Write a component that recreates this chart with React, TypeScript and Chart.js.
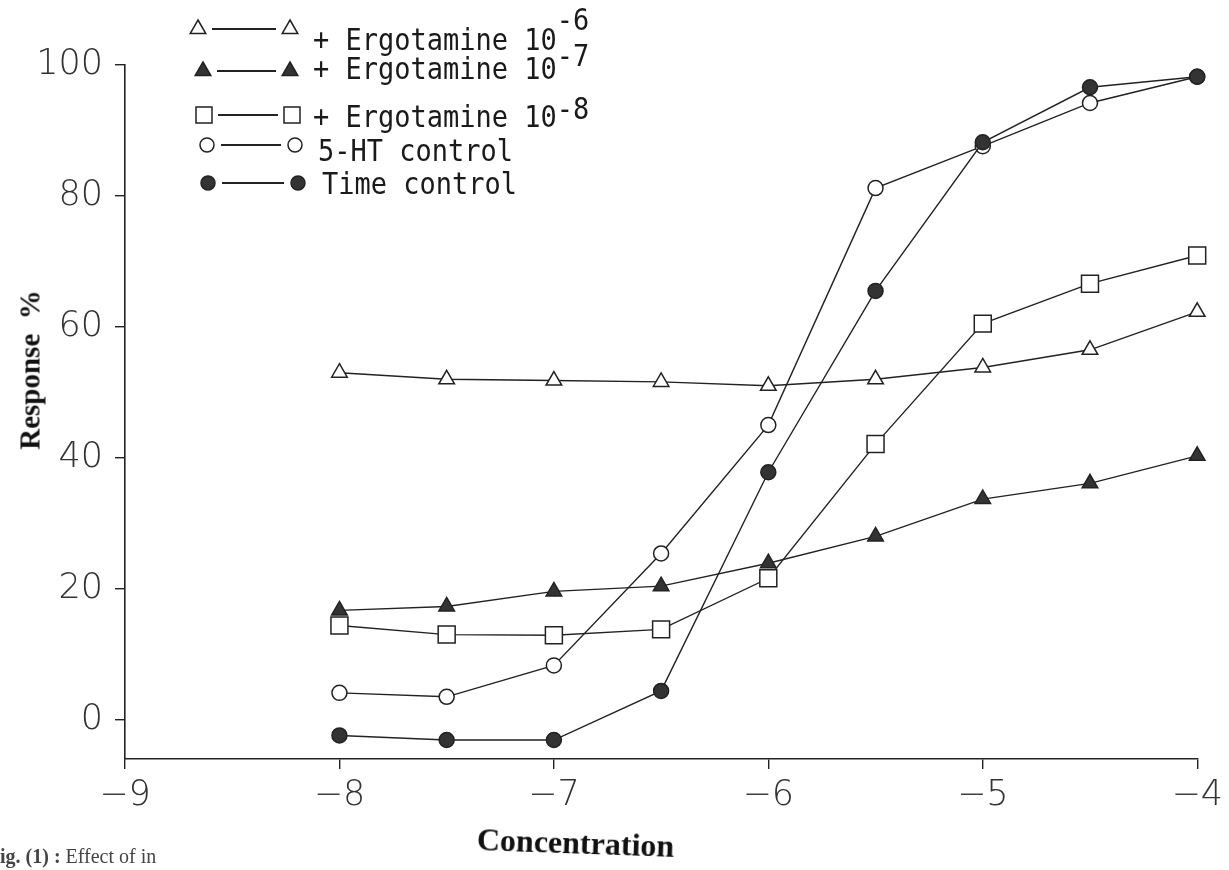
import React, { useEffect, useRef } from 'react';
import { Chart, registerables } from 'chart.js';

Chart.register(...registerables);

// ---- data ----
const concentrations = [-8, -7.5, -7, -6.5, -6, -5.5, -5, -4.5, -4];
const ergotamine6 = [53, 52, 51.8, 51.6, 51, 52, 53.8, 56.5, 62.3];
const ergotamine7 = [16.7, 17.3, 19.6, 20.4, 23.9, 28, 33.7, 36.1, 40.3];
const ergotamine8 = [14.4, 13, 12.9, 13.8, 21.6, 42.1, 60.5, 66.6, 70.9];
const htControl = [4.1, 3.5, 8.3, 25.4, 45, 81.2, 87.6, 94.2, 98.2];
const timeControl = [-2.4, -3.1, -3.1, 4.4, 37.8, 65.5, 88.2, 96.6, 98.2];

const xTicks = [-9, -8, -7, -6, -5, -4];
const yTicks = [0, 20, 40, 60, 80, 100];

const seriesNames = ['+ Ergotamine 10', '+ Ergotamine 10', '+ Ergotamine 10', '5-HT control', 'Time control'];
const seriesExps = ['-6', '-7', '-8', '', ''];
const markerKinds = ['triangle', 'triangle', 'rect', 'circle', 'circle'];
const markerFilled = [false, true, false, false, true];

const INK = '#222';
const FILL = '#333';

function Marker({ kind, filled, x, y }: { kind: string; filled: boolean; x: number; y: number }) {
  const fill = filled ? FILL : '#fff';
  let shape: React.ReactNode;
  if (kind === 'triangle') {
    shape = <polygon points="12,3 19.8,16.5 4.2,16.5" fill={fill} stroke={INK} strokeWidth={1.5} />;
  } else if (kind === 'rect') {
    shape = <rect x={4} y={4} width={16} height={16} fill={fill} stroke={INK} strokeWidth={1.5} />;
  } else {
    shape = <circle cx={12} cy={12} r={7} fill={fill} stroke={INK} strokeWidth={1.5} />;
  }
  return (
    <svg width={24} height={24} style={{ position: 'absolute', left: x - 12, top: y - 12 }}>
      {shape}
    </svg>
  );
}

const legendLayout = [
  { my: 29, ty: 41, m1: 198, m2: 290, tx: 313, raise: 18 },
  { my: 71, ty: 70, m1: 203, m2: 290, tx: 313, raise: 12 },
  { my: 115, ty: 118, m1: 204, m2: 292, tx: 313, raise: 7 },
  { my: 145, ty: 152, m1: 207, m2: 295, tx: 318, raise: 0 },
  { my: 183, ty: 185, m1: 208, m2: 298, tx: 322, raise: 0 },
];

export default function App() {
  const ref = useRef<HTMLCanvasElement>(null);

  useEffect(() => {
    document.body.style.margin = '0';
    const canvas = ref.current;
    if (!canvas) return;
    const pts = (vals: number[]) => concentrations.map((x, i) => ({ x, y: vals[i] }));
    const series = [ergotamine6, ergotamine7, ergotamine8, htControl, timeControl];
    const radii = [9, 9, 12, 7.5, 7.5];
    const datasets = series.map((vals, i) => ({
      label: seriesNames[i] + seriesExps[i],
      data: pts(vals),
      order: series.length - 1 - i,
      showLine: true,
      clip: false as any,
      borderColor: INK,
      borderWidth: 1.4,
      backgroundColor: markerFilled[i] ? FILL : '#fff',
      pointBackgroundColor: markerFilled[i] ? FILL : '#fff',
      pointBorderColor: INK,
      pointBorderWidth: 1.5,
      pointStyle: markerKinds[i] as any,
      pointRadius: radii[i],
      pointHoverRadius: radii[i],
      tension: 0,
      fill: false,
    }));

    const tickFont = { family: "'DejaVu Sans', 'Liberation Sans', sans-serif", size: 35, weight: '200' as any };

    const chart = new Chart(canvas, {
      type: 'line',
      data: { datasets },
      options: {
        animation: false,
        responsive: false,
        layout: { padding: { left: 0, right: 24, top: 65, bottom: 0 } },
        plugins: { legend: { display: false }, tooltip: { enabled: false }, title: { display: false } },
        scales: {
          x: {
            type: 'linear',
            min: -9,
            max: -4,
            afterFit: (s: any) => { s.height = 111; },
            afterBuildTicks: (s: any) => { s.ticks = xTicks.map((v) => ({ value: v })); },
            ticks: {
              color: '#333',
              font: tickFont,
              padding: 6,
              maxRotation: 0,
              callback: (v: any) => '\u2212' + Math.abs(Number(v)),
            },
            grid: { drawOnChartArea: false, drawTicks: true, tickLength: 10, color: INK, lineWidth: 1.4 },
            border: { display: true, color: INK, width: 1.6 },
          },
          y: {
            type: 'linear',
            min: -6,
            max: 100,
            afterFit: (s: any) => { s.width = 125; },
            afterBuildTicks: (s: any) => { s.ticks = yTicks.map((v) => ({ value: v })); },
            ticks: { color: '#333', font: tickFont, padding: 12 },
            grid: { drawOnChartArea: false, drawTicks: true, tickLength: 10, color: INK, lineWidth: 1.4 },
            border: { display: true, color: INK, width: 1.6 },
          },
        },
      },
    });
    return () => chart.destroy();
  }, []);

  const legendFont = "'DejaVu Sans Mono', 'Liberation Mono', monospace";

  return (
    <div style={{ position: 'relative', width: 1229, height: 870, overflow: 'hidden', background: '#fff' }}>
      <canvas ref={ref} width={1229} height={870} style={{ position: 'absolute', left: 0, top: 0, width: 1229, height: 870 }} />
      {legendLayout.map((r, i) => (
        <React.Fragment key={i}>
          <Marker kind={markerKinds[i]} filled={markerFilled[i]} x={r.m1} y={r.my} />
          <div style={{ position: 'absolute', left: r.m1 + 14, top: r.my - 0.75, width: r.m2 - r.m1 - 28, height: 1.5, background: INK }} />
          <Marker kind={markerKinds[i]} filled={markerFilled[i]} x={r.m2} y={r.my} />
          <div
            style={{
              position: 'absolute',
              left: r.tx,
              top: r.ty,
              transform: 'translateY(-55%) scaleY(1.12)',
              fontFamily: legendFont,
              fontSize: 27,
              lineHeight: 1,
              color: '#1a1a1a',
              whiteSpace: 'pre',
            }}
          >
            {seriesNames[i]}
            {seriesExps[i] ? <span style={{ position: 'relative', top: -r.raise }}>{seriesExps[i]}</span> : null}
          </div>
        </React.Fragment>
      ))}
      <div
        style={{
          position: 'absolute',
          left: 30,
          top: 370,
          transform: 'translate(-50%, -50%) rotate(-90deg)',
          fontFamily: "'Liberation Serif', 'Times New Roman', serif",
          fontWeight: 'bold',
          fontSize: 29,
          whiteSpace: 'pre',
          color: '#111',
        }}
      >
        {'Response  %'}
      </div>
      <div
        style={{
          position: 'absolute',
          left: 477,
          top: 822,
          transform: 'rotate(2deg)',
          transformOrigin: 'left center',
          fontFamily: "'Liberation Serif', 'Times New Roman', serif",
          fontWeight: 'bold',
          fontSize: 32,
          lineHeight: 1.1,
          whiteSpace: 'pre',
          color: '#111',
        }}
      >
        Concentration
      </div>
      <div
        style={{
          position: 'absolute',
          left: 0,
          top: 845,
          fontFamily: "'Liberation Serif', 'Times New Roman', serif",
          fontSize: 20,
          lineHeight: 1.1,
          whiteSpace: 'pre',
          color: '#444',
        }}
      >
        <b>ig. (1) :</b> Effect of in
      </div>
    </div>
  );
}
